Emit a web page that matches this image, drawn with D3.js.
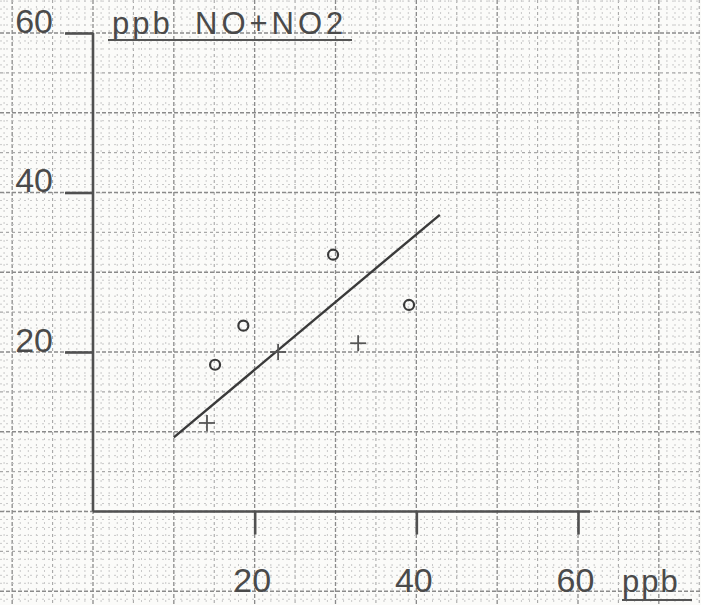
<!DOCTYPE html>
<html>
<head>
<meta charset="utf-8">
<style>
    body { margin: 0; background: #fbfbf9; }
    svg { display: block; }
    .lbl { font-family: "Liberation Sans", Arial, sans-serif; fill: #4a4a4a; }
</style>
</head>
<body>
<div id="vis"></div>
<script src="https://cdn.jsdelivr.net/npm/d3@7/dist/d3.min.js"></script>
<script>
    // measured points (ppb)
    const circleX = [15.1, 18.6, 29.7, 39.1];
    const circleY = [18.4, 23.3, 32.2, 25.9];
    const plusX = [14.1, 22.9, 32.8];
    const plusY = [11.1, 20.0, 21.1];
    // fitted line end points
    const lineX = [10.0, 42.9];
    const lineY = [9.3, 37.2];
    const xTicks = [20, 40, 60];
    const yTicks = [20, 40, 60];

    let width = 701, height = 605;

    let svg = d3.select("#vis")
        .append("svg")
        .attr("width", width)
        .attr("height", height);

    let x = d3.scaleLinear().domain([0, 60]).range([93, 578]);
    let y = d3.scaleLinear().domain([0, 60]).range([511.5, 33]);

    // graph paper grid
    let grid = svg.append("g");
    let gx = d3.range(-11, 76), gy = d3.range(-12, 76);
    function gridStyle(v) {
        if (v % 10 === 0) return {c: "#8a8a8a", d: "4,2", w: 1.3};
        if (v % 5 === 0) return {c: "#a8a8a8", d: "3,3", w: 1.1};
        return {c: "#c9c9c9", d: "2,4", w: 1};
    }
    grid.selectAll(".vg").data(gx).enter().append("line")
        .attr("x1", d => x(d)).attr("x2", d => x(d))
        .attr("y1", 0).attr("y2", height)
        .attr("stroke", d => gridStyle(d).c)
        .attr("stroke-dasharray", d => gridStyle(d).d)
        .attr("stroke-width", d => gridStyle(d).w);
    grid.selectAll(".hg").data(gy).enter().append("line")
        .attr("y1", d => y(d)).attr("y2", d => y(d))
        .attr("x1", 0).attr("x2", width)
        .attr("stroke", d => gridStyle(d).c)
        .attr("stroke-dasharray", d => gridStyle(d).d)
        .attr("stroke-width", d => gridStyle(d).w);

    // axes
    let yAxis = d3.axisLeft(y).tickValues(yTicks).tickSizeInner(28).tickSizeOuter(0);
    let gY = svg.append("g")
        .attr("transform", "translate(" + x(0) + ",0)")
        .call(yAxis);
    gY.selectAll("text")
        .attr("class", "lbl")
        .attr("x", -40).attr("dy", "-1px")
        .style("font-size", "34px")
        .style("letter-spacing", "0px");

    let xAxis = d3.axisBottom(x).tickValues(xTicks).tickSizeInner(23).tickSizeOuter(0);
    let gX = svg.append("g")
        .attr("transform", "translate(0," + y(0) + ")")
        .call(xAxis);
    gX.selectAll("text")
        .attr("class", "lbl")
        .attr("x", -3)
        .attr("y", 80).attr("dy", 0)
        .style("font-size", "34px")
        .style("letter-spacing", "0px");

    svg.selectAll(".domain, .tick line")
        .attr("stroke", "#505050")
        .attr("stroke-width", 2.6);
    gY.select(".domain").attr("d", "M0," + y(0) + "V" + y(60));
    gX.select(".domain").attr("d", "M" + x(0) + ",0H" + (x(60) + 12));

    // axis titles
    svg.append("text").attr("class", "lbl")
        .attr("x", 112).attr("y", 34)
        .style("font-size", "31px").style("letter-spacing", "3px")
        .text("ppb");
    svg.append("text").attr("class", "lbl")
        .attr("x", 195).attr("y", 34)
        .style("font-size", "31px").style("letter-spacing", "4px")
        .text("NO+NO2");
    svg.append("line")
        .attr("x1", 108).attr("x2", 352).attr("y1", 40).attr("y2", 40)
        .attr("stroke", "#555").attr("stroke-width", 1.8);

    svg.append("text").attr("class", "lbl")
        .attr("x", 622).attr("y", 592)
        .style("font-size", "31px").style("letter-spacing", "2px")
        .text("ppb");
    svg.append("line")
        .attr("x1", 622).attr("x2", 692).attr("y1", 600).attr("y2", 600)
        .attr("stroke", "#555").attr("stroke-width", 1.8);

    // regression line
    svg.append("line")
        .attr("x1", x(lineX[0])).attr("y1", y(lineY[0]))
        .attr("x2", x(lineX[1])).attr("y2", y(lineY[1]))
        .attr("stroke", "#3a3a3a")
        .attr("stroke-width", 2.4);

    // circles
    svg.append("g")
        .selectAll("circle")
        .data(circleX)
        .enter()
        .append("circle")
        .attr("cx", (d, i) => x(d))
        .attr("cy", (d, i) => y(circleY[i]))
        .attr("r", 5)
        .attr("fill", "none")
        .attr("stroke", "#3a3a3a")
        .attr("stroke-width", 2.2);

    // plus marks
    let plus = svg.append("g")
        .selectAll("g")
        .data(plusX)
        .enter()
        .append("g")
        .attr("transform", (d, i) => "translate(" + x(d) + "," + y(plusY[i]) + ")");
    plus.append("line").attr("x1", -8).attr("x2", 8)
        .attr("stroke", "#555").attr("stroke-width", 1.8);
    plus.append("line").attr("y1", -8).attr("y2", 8)
        .attr("stroke", "#555").attr("stroke-width", 1.8);
</script>
</body>
</html>
